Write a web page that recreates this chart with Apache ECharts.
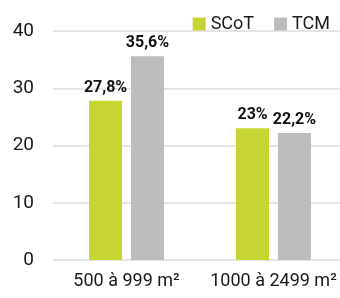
<!DOCTYPE html>
<html>
<head>
<meta charset="utf-8">
<script src="https://cdn.jsdelivr.net/npm/echarts@6/dist/echarts.min.js"></script>
<style>
html, body { margin: 0; padding: 0; background: #fff; }
#chart { width: 340px; height: 298px; }
</style>
</head>
<body>
<div id="chart"></div>
<script>
var categories = ['500 à 999 m²', '1000 à 2499 m²'];
var scotValues = [27.8, 23];
var tcmValues = [35.6, 22.2];
var yTicks = [0, 10, 20, 30, 40];

var fontName = 'Roboto, sans-serif';

function pct(p) {
    return String(p.value).replace('.', ',') + '%';
}

var myChart = echarts.init(document.getElementById('chart'));
var option = {
    animation: false,
    textStyle: { fontFamily: fontName },
    legend: {
        right: 5,
        top: 10,
        itemWidth: 13,
        itemHeight: 13,
        itemGap: 20,
        icon: 'rect',
        textStyle: { fontSize: 18, color: '#1a1a1a', fontFamily: fontName },
        data: ['SCoT', 'TCM']
    },
    grid: { left: 53, top: 31, width: 294, height: 229, outerBoundsMode: 'none', containLabel: false },
    xAxis: {
        type: 'category',
        data: categories,
        axisLine: { show: false },
        axisTick: { show: false },
        axisLabel: { interval: 0, hideOverlap: false, fontSize: 18, color: '#1a1a1a', margin: 12, fontFamily: fontName }
    },
    yAxis: {
        type: 'value',
        min: yTicks[0],
        max: yTicks[yTicks.length - 1],
        interval: 10,
        axisLine: { show: false },
        axisTick: { show: false },
        axisLabel: { fontSize: 19, color: '#1a1a1a', margin: 19, fontFamily: fontName },
        splitLine: { lineStyle: { color: '#e4e4e4', width: 2 } }
    },
    series: [{
        name: 'SCoT',
        type: 'bar',
        data: scotValues,
        barWidth: 33,
        barGap: '27%',
        itemStyle: { color: '#c6d531' },
        label: {
            show: true, position: 'top', formatter: pct,
            fontSize: 16, fontWeight: 'bold', color: '#111', fontFamily: fontName
        }
    }, {
        name: 'TCM',
        type: 'bar',
        data: tcmValues,
        barWidth: 33,
        itemStyle: { color: '#bcbcbc' },
        label: {
            show: true, position: 'top', formatter: pct,
            fontSize: 16, fontWeight: 'bold', color: '#111', fontFamily: fontName
        }
    }]
};
myChart.setOption(option);
</script>
</body>
</html>
